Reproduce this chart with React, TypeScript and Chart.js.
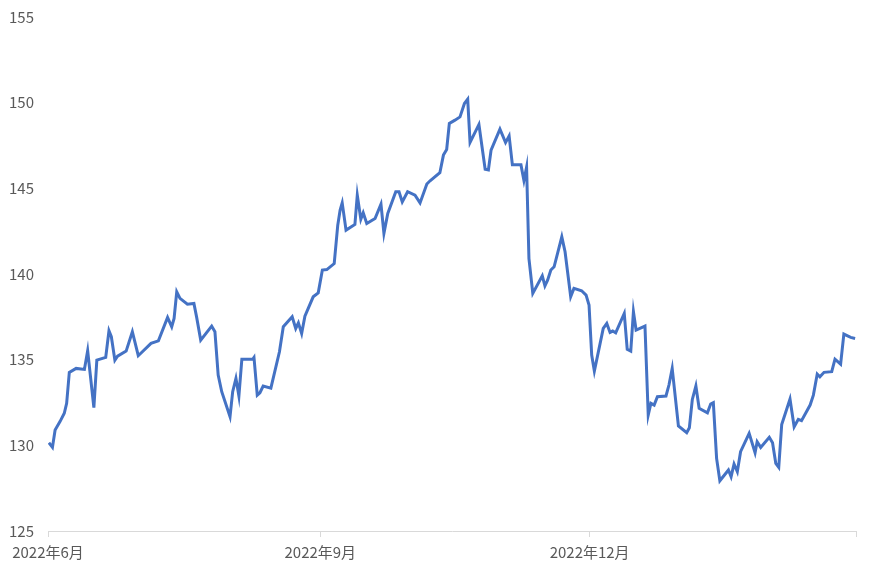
import React, { useEffect, useRef } from "react";
import { Chart, registerables } from "chart.js";

Chart.register(...registerables);

// Day offsets from 2022-06-01 (x) and exchange rate values (y)
const dayOffsets = [
  0.3, 1.5, 2.4, 4.1, 5.5, 6.3, 7.2, 9.5, 12.3, 13.4, 15.5, 16.5, 19.5, 20.6, 21.4, 22.6, 23.5, 26.4, 28.5, 30.5,
  34.8, 37.3, 40.4, 41.8, 42.6, 43.5, 44.6, 47.1, 49.3, 50.2, 51.6, 55.3, 56.4, 57.5, 58.7, 61.5, 62.4, 63.5, 64.5, 65.5,
  69.2, 69.6, 70.7, 71.6, 72.7, 75.3, 78.2, 79.5, 82.5, 83.7, 84.6, 85.7, 86.8, 89.6, 91.3, 92.7, 94.2, 96.7, 97.9, 98.7,
  99.4, 100.7, 103.7, 104.5, 105.7, 106.5, 107.7, 110.5, 112.5, 113.5, 114.8, 117.5, 118.6, 119.7, 121.5, 124.0, 125.7, 128.0, 129.1, 132.4,
  133.6, 134.7, 135.6, 137.5, 139.2, 140.7, 141.8, 142.6, 145.6, 147.7, 148.8, 149.7, 152.7, 154.6, 155.8, 156.9, 159.8, 160.8, 161.7, 162.5,
  163.8, 167.0, 167.9, 168.8, 169.9, 171.0, 173.6, 174.7, 176.6, 177.7, 180.3, 181.8, 182.8, 183.7, 184.6, 187.6, 188.8, 189.9, 190.8, 191.8,
  194.7, 195.7, 196.9, 197.8, 198.7, 201.7, 202.8, 203.7, 204.8, 205.9, 208.8, 209.8, 210.9, 213.0, 215.8, 216.7, 217.7, 218.9, 220.0, 222.8,
  223.9, 224.8, 225.9, 227.0, 229.9, 230.8, 231.8, 232.9, 234.0, 236.9, 238.9, 239.6, 240.8, 243.7, 244.8, 245.9, 246.9, 247.9, 250.7, 252.1,
  253.5, 254.6, 257.5, 258.6, 259.9, 260.8, 262.2, 264.8, 265.9, 267.8, 268.9, 271.2, 272.7,
];

const rates = [
  130.15, 129.88, 130.9, 131.4, 131.87, 132.45, 134.26, 134.49, 134.43, 135.52, 132.2, 134.97, 135.13, 136.69, 136.34, 134.97, 135.2, 135.5, 136.63, 135.23,
  135.95, 136.1, 137.47, 136.92, 137.41, 138.96, 138.58, 138.24, 138.28, 137.5, 136.14, 136.96, 136.63, 134.1, 133.13, 131.67, 133.13, 133.91, 132.88, 135.03,
  135.03, 135.13, 132.93, 133.07, 133.46, 133.34, 135.46, 136.92, 137.5, 136.82, 137.15, 136.53, 137.54, 138.67, 138.9, 140.23, 140.26, 140.61, 142.85, 143.73,
  144.15, 142.56, 142.89, 144.6, 143.2, 143.57, 142.95, 143.24, 144.08, 142.37, 143.53, 144.8, 144.8, 144.21, 144.8, 144.6, 144.15, 145.25, 145.44, 145.91,
  146.94, 147.27, 148.79, 148.98, 149.17, 149.95, 150.2, 147.68, 148.73, 146.11, 146.07, 147.23, 148.45, 147.67, 148.06, 146.37, 146.37, 145.46, 146.24, 140.9,
  138.87, 139.9, 139.31, 139.64, 140.23, 140.42, 142.17, 141.3, 138.67, 139.16, 139.02, 138.77, 138.19, 135.27, 134.33, 136.82, 137.11, 136.59, 136.67, 136.57,
  137.7, 135.6, 135.5, 137.8, 136.73, 136.96, 131.77, 132.45, 132.35, 132.84, 132.88, 133.52, 134.49, 131.13, 130.74, 131.03, 132.68, 133.46, 132.16, 131.9,
  132.41, 132.49, 129.24, 127.93, 128.56, 128.17, 128.91, 128.46, 129.63, 130.7, 129.57, 130.21, 129.88, 130.47, 130.15, 128.94, 128.71, 131.22, 132.7, 131.08,
  131.52, 131.44, 132.35, 132.93, 134.16, 134.0, 134.26, 134.3, 135.03, 134.74, 136.49, 136.3, 136.24,
];

// Major tick positions (days since 2022-06-01) and their labels
const tickDays = [0, 92, 183, 273];
const tickLabels = ["2022年6月", "2022年9月", "2022年12月", ""];

export default function App() {
  const canvasRef = useRef<HTMLCanvasElement | null>(null);

  useEffect(() => {
    if (!canvasRef.current) return;
    const fontFamily = "'Noto Sans CJK JP', 'Open Sans', sans-serif";
    const chart = new Chart(canvasRef.current, {
      type: "line",
      data: {
        datasets: [
          {
            data: dayOffsets.map((d, i) => ({ x: d, y: rates[i] })),
            borderColor: "#4472C4",
            borderWidth: 3,
            pointRadius: 0,
            tension: 0,
            fill: false,
          },
        ],
      },
      options: {
        animation: false,
        responsive: false,
        maintainAspectRatio: false,
        layout: { padding: { left: 8, right: 14, top: 17, bottom: 0 } },
        plugins: { legend: { display: false }, tooltip: { enabled: false } },
        scales: {
          x: {
            type: "linear",
            min: 0,
            max: 273,
            afterBuildTicks: (scale: any) => {
              scale.ticks = tickDays.map((v) => ({ value: v }));
            },
            afterFit: (scale: any) => {
              scale.height = 45;
              scale.paddingLeft = 0;
              scale.paddingRight = 0;
            },
            ticks: {
              autoSkip: false,
              maxRotation: 0,
              minRotation: 0,
              color: "#595959",
              font: { family: fontFamily, size: 15 },
              padding: 6,
              callback: (value: any) => {
                const idx = tickDays.indexOf(Number(value));
                return idx >= 0 ? tickLabels[idx] : "";
              },
            },
            grid: {
              display: true,
              drawOnChartArea: false,
              drawTicks: true,
              tickLength: 6,
              color: "#d9d9d9",
            },
            border: { display: true, color: "#d9d9d9", width: 1 },
          },
          y: {
            min: 125,
            max: 155,
            afterFit: (scale: any) => {
              scale.width = 40;
              scale.paddingTop = 0;
              scale.paddingBottom = 0;
            },
            ticks: {
              stepSize: 5,
              color: "#595959",
              font: { family: fontFamily, size: 15 },
              padding: 14,
            },
            grid: { display: false, drawTicks: false },
            border: { display: false },
          },
        },
      },
    });
    return () => chart.destroy();
  }, []);

  return (
    <div style={{ position: "fixed", left: 0, top: 0, width: 870, height: 576, background: "#fff" }}>
      <canvas ref={canvasRef} width={870} height={576} style={{ width: 870, height: 576 }} />
    </div>
  );
}
